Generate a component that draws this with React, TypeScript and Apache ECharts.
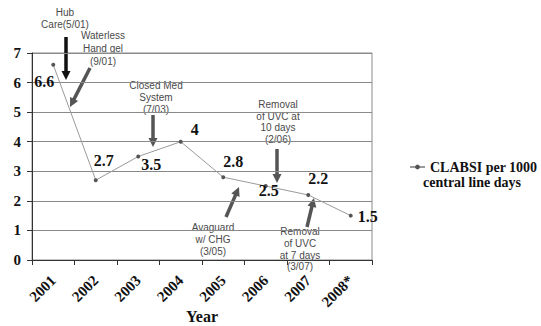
import React, { useEffect, useRef } from "react";
import * as echarts from "echarts";

// CLABSI rate per 1000 central line days, by year
const years = ["2001", "2002", "2003", "2004", "2005", "2006", "2007", "2008*"];
const clabsiRates = [6.6, 2.7, 3.5, 4, 2.8, 2.5, 2.2, 1.5];
const yTicks = { min: 0, max: 7, interval: 1 };
const seriesName = "CLABSI per 1000";
const seriesNameLine2 = "central line days";

// where each value label sits relative to its point [dx, dy]
const labelOffsets: [number, number][] = [
  [-9, 17],
  [8, -20],
  [13, 8],
  [14, -12],
  [10, -16],
  [3, 4],
  [10, -16],
  [17, 1],
];

const SERIF = "'Liberation Serif', 'Times New Roman', serif";
const SANS = "'Liberation Sans', Arial, sans-serif";

// thick arrow drawn from (x1,y1) towards its head at (x2,y2)
function arrow(x1: number, y1: number, x2: number, y2: number, color: string) {
  const dx = x2 - x1;
  const dy = y2 - y1;
  const len = Math.sqrt(dx * dx + dy * dy);
  const ux = dx / len;
  const uy = dy / len;
  const px = -uy;
  const py = ux;
  const headLen = 9;
  const headHalf = 4.5;
  const bx = x2 - ux * headLen;
  const by = y2 - uy * headLen;
  return {
    type: "group",
    silent: true,
    children: [
      {
        type: "line",
        shape: { x1, y1, x2: bx + ux, y2: by + uy },
        style: { stroke: color, lineWidth: 3.5 },
      },
      {
        type: "polygon",
        shape: {
          points: [
            [x2, y2],
            [bx + px * headHalf, by + py * headHalf],
            [bx - px * headHalf, by - py * headHalf],
          ],
        },
        style: { fill: color },
      },
    ],
  };
}

function note(text: string, x: number, y: number, lineHeight: number) {
  return {
    type: "text",
    silent: true,
    x,
    y,
    style: {
      text,
      fill: "#4a4a4a",
      font: `10px ${SANS}`,
      align: "center",
      verticalAlign: "top",
      lineHeight,
    },
  };
}

export default function App() {
  const ref = useRef<HTMLDivElement>(null);

  useEffect(() => {
    if (!ref.current) return;
    const chart = echarts.init(ref.current, undefined, { renderer: "svg" });

    const gray = "#555";
    chart.setOption({
      animation: false,
      backgroundColor: "#fff",
      grid: {
        left: 32,
        right: 169,
        top: 53,
        bottom: 66,
        outerBoundsMode: "none",
        show: true,
        borderColor: "#8a8a8a",
        borderWidth: 1,
      },
      legend: {
        data: [seriesName],
        orient: "vertical",
        left: 404,
        top: 155,
        itemWidth: 15,
        itemHeight: 6,
        itemGap: 4,
        textStyle: {
          fontFamily: SERIF,
          fontWeight: "bold",
          fontSize: 14,
          color: "#111",
        },
      },
      xAxis: {
        type: "category",
        data: years,
        boundaryGap: true,
        name: "Year",
        nameLocation: "middle",
        nameGap: 48,
        nameMoveOverlap: false,
        nameTextStyle: {
          fontFamily: SERIF,
          fontWeight: "bold",
          fontSize: 16,
          lineHeight: 16,
          color: "#111",
        },
        axisLine: { lineStyle: { color: "#333", width: 1 } },
        axisTick: { show: true, alignWithLabel: false, length: 5, lineStyle: { color: "#333" } },
        axisLabel: {
          rotate: 45,
          margin: 18,
          fontFamily: SERIF,
          fontWeight: "bold",
          fontSize: 15,
          color: "#111",
        },
        splitLine: { show: false },
      },
      yAxis: {
        type: "value",
        min: yTicks.min,
        max: yTicks.max,
        interval: yTicks.interval,
        axisLine: { show: true, lineStyle: { color: "#333", width: 1 } },
        axisTick: { show: true, length: 5, lineStyle: { color: "#333" } },
        axisLabel: {
          margin: 11,
          fontFamily: SERIF,
          fontWeight: "bold",
          fontSize: 15,
          color: "#111",
        },
        splitLine: { show: true, lineStyle: { color: "#8a8a8a", width: 1 } },
      },
      series: [
        {
          name: seriesName,
          type: "line",
          data: clabsiRates.map((v, i) => ({
            value: v,
            label: { offset: labelOffsets[i] },
          })),
          symbol: "circle",
          symbolSize: 4,
          itemStyle: { color: gray },
          lineStyle: { color: "#9a9a9a", width: 1 },
          label: {
            show: true,
            position: "inside",
            align: "center",
            verticalAlign: "middle",
            fontFamily: SERIF,
            fontWeight: "bold",
            fontSize: 16,
            color: "#111",
          },
        },
      ],
      graphic: [
        {
          type: "text",
          silent: true,
          x: 423,
          y: 175,
          style: {
            text: seriesNameLine2,
            fill: "#111",
            font: `bold 14px ${SERIF}`,
            align: "left",
            verticalAlign: "top",
          },
        },
        note("Hub\nCare(5/01)", 65, 6, 12),
        arrow(66, 37, 66, 80, "#111"),
        note("Waterless\nHand gel\n(9/01)", 103, 29, 13),
        arrow(90, 68, 70, 107, gray),
        note("Closed Med\nSystem\n(7/03)", 156, 79, 12),
        arrow(153, 115, 153, 147, gray),
        note("Removal\nof UVC at\n10 days\n(2/06)", 278, 99, 11.5),
        arrow(277, 149, 277, 183, gray),
        note("Avaguard\nw/ CHG\n(3/05)", 213, 221, 12),
        arrow(226, 217, 239, 187, gray),
        note("Removal\nof UVC\nat 7 days\n(3/07)", 300, 226, 11.7),
        arrow(307, 227, 314, 198, gray),
      ],
    });

    return () => chart.dispose();
  }, []);

  return (
    <div
      ref={ref}
      style={{ position: "fixed", left: 0, top: 0, width: 541, height: 326 }}
    />
  );
}
